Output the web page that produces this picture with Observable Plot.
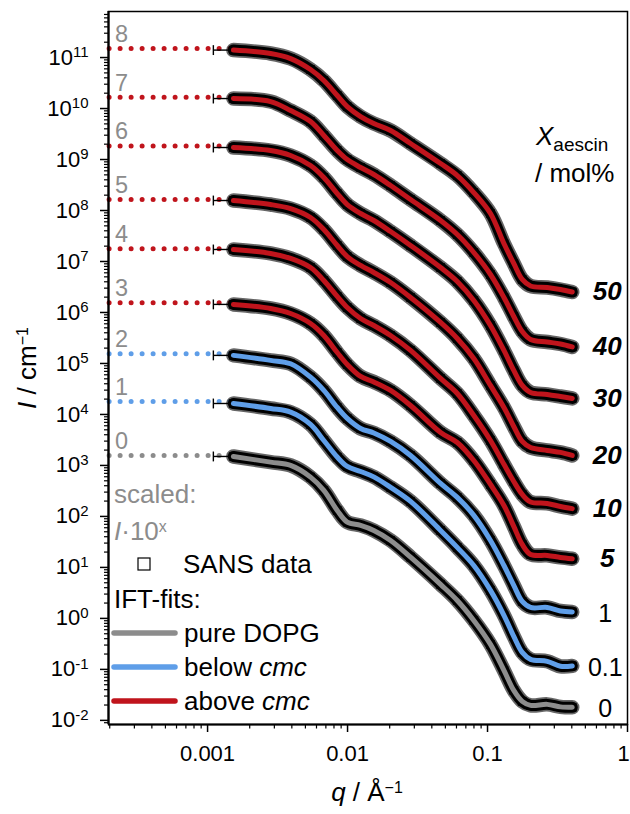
<!DOCTYPE html>
<html><head><meta charset="utf-8">
<script src="https://cdn.jsdelivr.net/npm/d3@7"></script>
<script src="https://cdn.jsdelivr.net/npm/@observablehq/plot@0.6"></script>
<style>body{margin:0;background:#fff;} svg{display:block;}</style>
</head><body><div id="chart"></div>
<script>
// ---------- data ----------
const qData = [0.00153, 0.00282, 0.00392, 0.00544, 0.00677, 0.00844, 0.00995, 0.0124, 0.0154, 0.0203, 0.0282, 0.0462, 0.0608, 0.0798, 0.105, 0.131, 0.154, 0.177, 0.203, 0.267, 0.332, 0.403];
const xAescin = ["0", "0.1", "1", "5", "10", "20", "30", "40", "50"];
const scaleExp = [0, 1, 2, 3, 4, 5, 6, 7, 8];
const fitType = ["pure DOPG", "below cmc", "below cmc", "above cmc", "above cmc", "above cmc", "above cmc", "above cmc", "above cmc"];
const fitNames = ["pure DOPG", "below cmc", "above cmc"];
const fitColors = ["#8c8c8c", "#5f9ee8", "#c0141c"];
// IFT extrapolation to q -> 0 (unscaled)
const I0 = [1570, 1800, 1550, 1550, 1770, 1640, 1850, 1670, 1510];
const qExtrap = [0.000198, 0.0015];
const qResLow = 0.0011;
// SANS intensities (unscaled, cm^-1)
const I_X0   = [1500, 1160, 1000, 590, 324, 131, 77.3, 66.7, 53.1, 33.8, 15.9, 4.65, 2.25, 0.914, 0.309, 0.0955, 0.0387, 0.0236, 0.0197, 0.0206, 0.0184, 0.0180];
const I_X0_1 = [1640, 1310, 1110, 637, 309, 146, 95.5, 76.2, 59.6, 37.1, 19.7, 5.31, 2.47, 1.09, 0.354, 0.115, 0.0444, 0.0215, 0.0157, 0.0144, 0.0115, 0.0117];
const I_X1   = [1440, 1150, 986, 538, 296, 137, 83.6, 53.1, 43.4, 29.6, 15.7, 4.44, 2.36, 1.05, 0.338, 0.109, 0.0444, 0.0215, 0.0164, 0.0164, 0.0140, 0.0134];
const I_X5   = [1440, 1200, 955, 608, 354, 164, 95.5, 55.6, 43.4, 29.6, 15.0, 4.44, 2.82, 1.25, 0.424, 0.164, 0.0637, 0.0282, 0.0180, 0.0172, 0.0157, 0.0148];
const I_X10  = [1720, 1440, 1150, 762, 424, 206, 125, 76.2, 55.6, 35.4, 18.0, 5.08, 2.58, 0.955, 0.309, 0.105, 0.0485, 0.0270, 0.0192, 0.0180, 0.0157, 0.0142];
const I_X20  = [1570, 1310, 1090, 730, 424, 206, 125, 83.6, 60.8, 38.7, 19.7, 6.37, 3.09, 1.25, 0.371, 0.137, 0.0582, 0.0296, 0.0225, 0.0197, 0.0180, 0.0157];
const I_X30  = [1720, 1500, 1200, 762, 444, 215, 131, 87.3, 63.7, 38.7, 20.6, 7.62, 4.06, 1.72, 0.556, 0.180, 0.0730, 0.0371, 0.0270, 0.0247, 0.0225, 0.0206];
const I_X40  = [1570, 1370, 914, 556, 296, 150, 100, 69.7, 50.8, 30.9, 16.4, 6.37, 3.38, 1.50, 0.556, 0.197, 0.0836, 0.0424, 0.0296, 0.0264, 0.0241, 0.0211];
const I_X50  = [1400, 1200, 955, 582, 354, 180, 109, 69.7, 50.8, 37.1, 20.6, 8.36, 4.85, 2.25, 0.873, 0.225, 0.0914, 0.0444, 0.0331, 0.0309, 0.0282, 0.0252];
const xTicks = [0.001, 0.01, 0.1, 1];
const yTickExps = [-2, -1, 0, 1, 2, 3, 4, 5, 6, 7, 8, 9, 10, 11];

// ---------- derived tables ----------
const intensities = [I_X0, I_X0_1, I_X1, I_X5, I_X10, I_X20, I_X30, I_X40, I_X50];
const last = qData.length - 1;
const rows = intensities.flatMap((arr, i) => arr.map((v, j) => ({q: qData[j], I: v * 10 ** scaleExp[i], s: i, fit: fitType[i]})));
const extrap = intensities.flatMap((arr, i) => qExtrap.map(q => ({q, I: I0[i] * 10 ** scaleExp[i], s: i, fit: fitType[i]})));
const series = intensities.map((arr, i) => ({
  lab: xAescin[i], k: scaleExp[i], fit: fitType[i], bold: i >= 3,
  I0s: I0[i] * 10 ** scaleExp[i],
  qStart: qData[0], Istart: arr[0] * 10 ** scaleExp[i],
  qEnd: qData[last], Iend: arr[last] * 10 ** scaleExp[i]
}));
const yMajor = yTickExps.map(e => 10 ** e);
const yMinor = d3.range(-3, 12).flatMap(e => d3.range(2, 10).map(m => m * 10 ** e)).filter(v => v > 0.0083 && v < 8e11);
const xMinor = d3.range(-4, 0).flatMap(e => d3.range(2, 10).map(m => m * 10 ** e)).filter(v => v > 0.000196 && v < 1);

const FONT = "'Liberation Sans', Arial, Helvetica, sans-serif";
const GRAY = "#8c8c8c";
const CURVE = "catmull-rom";

const plot = Plot.plot({
  width: 630, height: 814,
  marginLeft: 108, marginRight: 3, marginTop: 11, marginBottom: 90,
  style: {fontFamily: FONT, fontSize: "22px", background: "#fff", color: "#000"},
  x: {type: "log", domain: [0.000196, 1]},
  y: {type: "log", domain: [0.0083, 8e11]},
  color: {type: "ordinal", domain: fitNames, range: fitColors},
  marks: [
    // dotted IFT extrapolations
    Plot.line(extrap, {x: "q", y: "I", z: "s", stroke: "fit", strokeWidth: 5, strokeDasharray: "0 11", strokeLinecap: "round"}),
    // SANS data (black band of squares + error bars)
    Plot.line(rows, {x: "q", y: "I", z: "s", stroke: "#000", strokeOpacity: 0.6, strokeWidth: 14.5, curve: CURVE, strokeLinecap: "round"}),
    Plot.line(rows, {x: "q", y: "I", z: "s", stroke: "#000", strokeWidth: 11, curve: CURVE, strokeLinecap: "round", strokeLinejoin: "round"}),
    Plot.dot(rows, {x: "q", y: "I", symbol: "square", r: 4.5, stroke: "#000", fill: "none", strokeWidth: 1}),
    Plot.link(series, {x1: () => qResLow, x2: "qStart", y1: "Istart", y2: "Istart", stroke: "#000", strokeWidth: 1.4}),
    Plot.link(series, {x1: () => qResLow, x2: () => qResLow, y1: d => d.Istart / 1.25, y2: d => d.Istart * 1.25, stroke: "#000", strokeWidth: 1.4}),
    // IFT fits
    Plot.line(rows, {x: "q", y: "I", z: "s", stroke: "fit", strokeWidth: 5, curve: CURVE, strokeLinecap: "round", strokeLinejoin: "round"}),
    // scale exponent labels
    Plot.text(series, {x: () => 0.000196, y: "I0s", text: d => String(d.k), dx: 6.5, dy: -14, textAnchor: "start", fill: GRAY, fontSize: 23.5}),
    // X_aescin labels at right
    Plot.text(series.filter(d => d.bold), {x: "qEnd", y: "Iend", text: "lab", dx: 35, textAnchor: "middle", fontSize: 26, fontWeight: "bold", fontStyle: "italic", fill: "#000"}),
    Plot.text(series.filter(d => !d.bold), {x: "qEnd", y: "Iend", text: "lab", dx: 33, dy: 2, textAnchor: "middle", fontSize: 25, fill: "#000"}),
    // axes
    Plot.axisY({ticks: yMajor, tickSize: 8, tickPadding: 12, strokeWidth: 1.5, tickFormat: d => "10^" + Math.round(Math.log10(d)), fontSize: 22, label: null}),
    Plot.axisY({ticks: yMinor, tickSize: 4, strokeWidth: 1.2, tickFormat: () => "", label: null}),
    Plot.axisX({ticks: xTicks, tickSize: 8, tickPadding: 13, strokeWidth: 1.5, tickFormat: d => String(d), fontSize: 22, label: null}),
    Plot.axisX({ticks: xMinor, tickSize: 4.5, strokeWidth: 1.2, tickFormat: () => "", label: null}),
    Plot.frame({stroke: "#000", strokeWidth: 1.5}),
    Plot.ruleX([0.000196], {stroke: "#000", strokeWidth: 2.2}),
    Plot.ruleY([0.0083], {stroke: "#000", strokeWidth: 2.2})
  ]
});

const svg = d3.select(plot);
// tick label sizes and superscript exponents
svg.selectAll("g[aria-label$='tick label']").attr("font-size", 22);
svg.selectAll("g[aria-label$='tick label'] text").attr("font-size", 22);
svg.selectAll("g[aria-label='y-axis tick label'] text").each(function () {
  const t = this.textContent;
  const m = /^10\^(-?\d+)$/.exec(t);
  if (!m) return;
  this.textContent = "10";
  d3.select(this).append("tspan").attr("dy", "-0.5em").attr("font-size", "15px").text(m[1]);
});
svg.selectAll("g[aria-label='x-axis tick label'] text").each(function () {
  if (this.textContent === "1") d3.select(this).attr("dx", -4);
});

const g = svg.append("g").attr("font-family", FONT).attr("text-anchor", "start").attr("fill", "#000");

// axis titles
const yt = g.append("text").attr("transform", "translate(36,368) rotate(-90)").attr("text-anchor", "middle").attr("font-size", 26);
yt.append("tspan").attr("font-style", "italic").text("I");
yt.append("tspan").text(" / cm");
yt.append("tspan").attr("dy", "-0.5em").attr("font-size", 16).text("\u22121");

const xt = g.append("text").attr("x", 367).attr("y", 801).attr("text-anchor", "middle").attr("font-size", 26);
xt.append("tspan").attr("font-style", "italic").text("q");
xt.append("tspan").text(" / \u00C5");
xt.append("tspan").attr("dy", "-0.5em").attr("font-size", 16).text("\u22121");

// X_aescin / mol% header
const h1 = g.append("text").attr("x", 536).attr("y", 145).attr("font-size", 26);
h1.append("tspan").attr("font-style", "italic").text("X");
h1.append("tspan").attr("dy", 6).attr("font-size", 19).text("aescin");
g.append("text").attr("x", 535).attr("y", 182).attr("font-size", 26).text("/ mol%");

// legend
g.append("text").attr("x", 114).attr("y", 503).attr("font-size", 26).attr("fill", GRAY).text("scaled:");
const sc = g.append("text").attr("x", 114).attr("y", 540).attr("font-size", 26).attr("fill", GRAY);
sc.append("tspan").attr("font-style", "italic").text("I");
sc.append("tspan").text("\u00B710");
sc.append("tspan").attr("dy", "-0.5em").attr("font-size", 16).text("x");

g.append("rect").attr("x", 138).attr("y", 558).attr("width", 12).attr("height", 12).attr("fill", "#fff").attr("stroke", "#000").attr("stroke-width", 1.2);
g.append("text").attr("x", 183).attr("y", 573).attr("font-size", 26).text("SANS data");
g.append("text").attr("x", 114).attr("y", 608).attr("font-size", 26).text("IFT-fits:");

const legendY = [633, 667, 701];
fitNames.forEach((name, i) => {
  g.append("line").attr("x1", 114).attr("x2", 175).attr("y1", legendY[i]).attr("y2", legendY[i])
    .attr("stroke", fitColors[i]).attr("stroke-width", 5.5).attr("stroke-linecap", "round");
  const t = g.append("text").attr("x", 184).attr("y", legendY[i] + 8.5).attr("font-size", 26);
  const parts = name.split(" ");
  if (parts[1] === "cmc") {
    t.append("tspan").text(parts[0] + " ");
    t.append("tspan").attr("font-style", "italic").text("cmc");
  } else {
    t.text(name);
  }
});

document.getElementById("chart").appendChild(plot);
</script>
</body></html>
